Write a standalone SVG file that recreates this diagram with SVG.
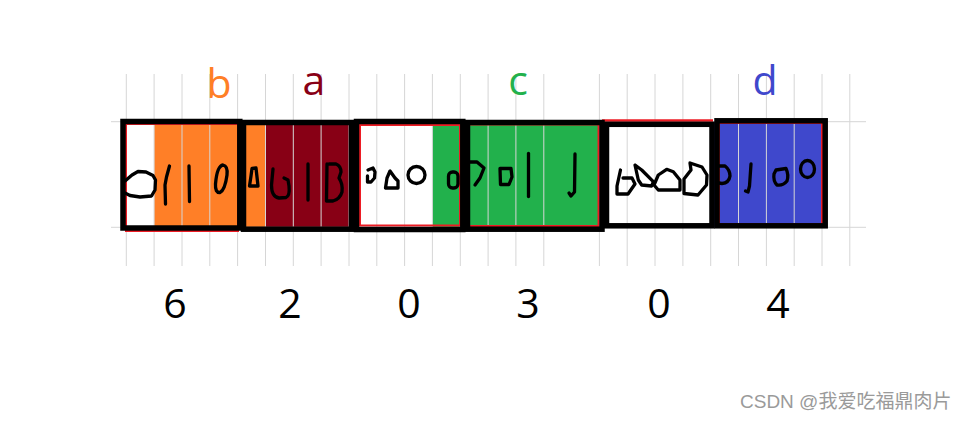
<svg xmlns="http://www.w3.org/2000/svg" width="967" height="421" viewBox="0 0 967 421">
<style>
.grid{stroke:#d6d6d6;stroke-width:1;fill:none}
.ink{stroke:#000;stroke-width:3.3;fill:none;stroke-linejoin:round;stroke-linecap:round}
.box{stroke:#000;stroke-width:5.5;fill:none}
.red{stroke:#ed1c24;stroke-width:2;fill:none}
.lbl{font-family:"Open Sans","Liberation Sans",sans-serif;font-size:41px;text-anchor:middle}
.num{font-family:"Open Sans","Liberation Sans",sans-serif;font-size:41px;text-anchor:middle;fill:#000}
</style>
<rect width="967" height="421" fill="#fff"/>
<g id="cells">
<rect x="154.1" y="122" width="111.4" height="105.3" fill="#ff7f27"/>
<rect x="265.5" y="122" width="83.5" height="105.3" fill="#880015"/>
<rect x="432.4" y="122" width="167" height="105.3" fill="#22b14c"/>
<rect x="710.7" y="122" width="111.3" height="105.3" fill="#3f48cc"/>
</g>
<g id="grid" class="grid">
<path d="M111,121.7H866M111,227.3H866"/>
<path d="M126.3,74V266M154.1,74V266M182,74V266M209.8,74V266M237.6,74V266M265.5,74V266M293.3,74V266M321.1,74V266M349,74V266M376.8,74V266M404.6,74V266M432.4,74V266M460.3,74V266M488.1,74V266M515.9,74V266M543.8,74V266M599.4,74V266M627.2,74V266M655,74V266M682.9,74V266M710.7,74V266M738.5,74V266M766.4,74V266M794.2,74V266M822,74V266M849.8,74V266"/>
</g>
<g id="red-outlines" class="red">
<rect x="126" y="124" width="112" height="107"/>
<rect x="360" y="125" width="100" height="100.5"/>
<rect x="469" y="124.5" width="129.5" height="101.5"/>
<path d="M602,120.5H713" stroke-width="2.6"/>
<rect x="719" y="123" width="103" height="101"/>
</g>
<g id="box-b">
<rect class="box" x="123" y="121.5" width="116.8" height="106.5"/>
<path class="ink" d="M125,181 L132,175 L138,171.5 L146,172 L153,175.5 L155.5,180 L155,190 L151.5,196 L140,197 L130,195.5 L125,193"/>
<path class="ink" d="M169.5,166 L166.5,177 L165,185 L165.5,204"/>
<path class="ink" d="M189,166 L189.5,201.5"/>
<path class="ink" d="M223,165 Q228,166 227,175 Q225,190 220,192.5 Q215,193 215.5,184 Q217,166 223,165 Z"/>
</g>
<g id="box-a">
<rect class="box" x="243.5" y="122.5" width="108" height="106.7"/>
<path class="ink" d="M252,168.5 L256,168 L258,186 L249.5,186 L251,176 Z"/>
<path class="ink" d="M273,169 L271.5,185 Q271.5,197 279,198 L286,197.5 Q290,196 289,186 L288,180 L284,178"/>
<path class="ink" d="M308,164 L308,200"/>
<path class="ink" d="M327,164 L326.5,201 M329,164 L336,164 Q341,166 341,172 L339,178 Q343,184 342,192 Q340,199 333,201 L327,201"/>
</g>
<g id="box-zero-1">
<rect class="box" x="356.5" y="121.5" width="106.3" height="108"/>
<path class="ink" d="M368,170 L373,168 L375,172 L374.5,178 L371,182 L367.5,182 L367.5,176"/>
<path class="ink" d="M390,171 L387,178 L385.5,188 L398,188 L398,181 L395,178 Z"/>
<circle class="ink" cx="416.5" cy="175" r="8.5"/>
<rect class="ink" x="448.5" y="172" width="9.5" height="16" rx="4"/>
</g>
<g id="box-c">
<rect class="box" x="467.5" y="122.5" width="134.5" height="106.7"/>
<path class="ink" d="M470,162 L477,162 L484,168 L480,178 L475,185"/>
<path class="ink" d="M500,168.5 L511,168.5 L512,177 L509,184.5 L500.5,184.5 Z"/>
<path class="ink" d="M528.5,153.5 L528.5,196.5"/>
<path class="ink" d="M575,154 L574.5,192 L571,196 L569,193"/>
</g>
<g id="box-zero-2">
<rect class="box" x="606.5" y="124.3" width="105.5" height="101.5"/>
<path class="ink" d="M620.5,170 L617,186 L617,194 L628,194 L635,184 L632,178 L623,178"/>
<path class="ink" d="M635,165 L641.7,170 L653.3,181.7 L651.7,186 L641.7,185 L638.3,180 Z"/>
<path class="ink" d="M654,185 L658.3,175 L666.7,169.3 L673.3,171.7 L680,180 L680,190 L658.3,190 Z"/>
<path class="ink" d="M690,163 L702,167 L707,175 L706.5,185 L698,195 L684,193.5 L684,179 L691,170 Z"/>
</g>
<g id="box-d">
<rect class="box" x="717" y="120.8" width="108.2" height="105"/>
<path class="ink" d="M719,166 L725,166 Q730,170 730,176 Q729,183 722,183.5 L719,183"/>
<path class="ink" d="M751,164 L749.5,186 L748,192 L745.5,191"/>
<path class="ink" d="M776,170 L786,168.5 Q789,175 787,181 Q783,186 777,185 Q773,181 774,174 Z"/>
<ellipse class="ink" cx="807.5" cy="169" rx="7" ry="8.5"/>
</g>
<g id="labels">
<text class="lbl" x="219" y="98" fill="#ff7f27">b</text>
<text class="lbl" x="314" y="95" fill="#880015">a</text>
<text class="lbl" x="518" y="95" fill="#22b14c">c</text>
<text class="lbl" x="765" y="94.5" fill="#3f48cc">d</text>
</g>
<g id="counts">
<text class="num" x="175" y="318">6</text>
<text class="num" x="290" y="318">2</text>
<text class="num" x="409" y="318">0</text>
<text class="num" x="528" y="318">3</text>
<text class="num" x="659" y="318">0</text>
<text class="num" x="778" y="318">4</text>
</g>
<text x="740" y="408" font-family="Liberation Sans, Noto Sans CJK SC, sans-serif" font-size="19" fill="#9a9a9a">CSDN @我爱吃福鼎肉片</text>
</svg>
